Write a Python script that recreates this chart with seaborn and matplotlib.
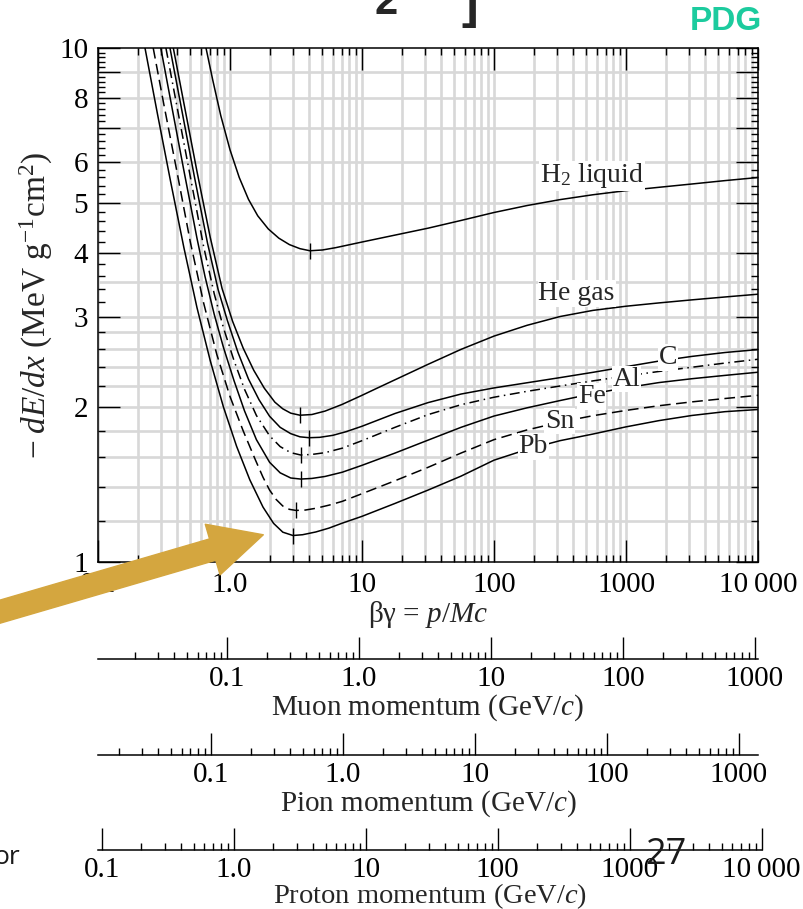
import numpy as np
import pandas as pd
import matplotlib
matplotlib.use("Agg")
import matplotlib.pyplot as plt
import seaborn as sns
from matplotlib.ticker import FixedLocator, FixedFormatter, LogLocator, NullFormatter
from matplotlib.patches import FancyArrowPatch

# ---------------- data ----------------
h2_bg  = [0.658, 0.741, 0.851, 1.0, 1.175, 1.380, 1.622, 1.950, 2.344, 2.818, 3.388, 4.036, 5.012, 6.310,
          7.943, 10, 17.78, 31.62, 56.23, 100, 177.8, 316.2, 562.3, 1000, 1778, 3162, 5623, 10000]
h2_val = [10.0, 8.650, 7.389, 6.339, 5.598, 5.077, 4.716, 4.446, 4.266, 4.145, 4.070, 4.032, 4.046, 4.088,
          4.140, 4.193, 4.325, 4.461, 4.618, 4.786, 4.937, 5.070, 5.182, 5.278, 5.358, 5.438, 5.521, 5.598]

he_bg  = [0.372, 0.447, 0.562, 0.708, 0.871, 1.047, 1.259, 1.514, 1.820, 2.188, 2.512, 2.884, 3.388, 4.169,
          5.248, 7.079, 10, 12.59, 17.78, 31.62, 56.23, 100, 177.8, 316.2, 562.3, 1000, 1778, 3162, 5623, 10000]
he_val = [10.0, 7.816, 5.754, 4.285, 3.404, 2.938, 2.606, 2.360, 2.178, 2.046, 1.986, 1.948, 1.930, 1.936,
          1.966, 2.026, 2.110, 2.170, 2.262, 2.424, 2.592, 2.751, 2.887, 3.003, 3.087, 3.145, 3.192, 3.236, 3.278, 3.319]

c_bg   = [0.351, 0.427, 0.537, 0.676, 0.813, 0.955, 1.148, 1.380, 1.660, 1.995, 2.399, 2.884, 3.388, 3.972,
          4.786, 6.026, 7.586, 10, 17.78, 31.62, 56.23, 100, 177.8, 316.2, 562.3, 1000, 1778, 3162, 5623, 10000]
c_val  = [10.0, 7.674, 5.623, 4.169, 3.388, 2.951, 2.559, 2.270, 2.068, 1.921, 1.828, 1.777, 1.752, 1.745,
          1.748, 1.764, 1.793, 1.837, 1.945, 2.042, 2.122, 2.181, 2.232, 2.284, 2.339, 2.399, 2.460, 2.512, 2.556, 2.590]

al_bg  = [0.327, 0.398, 0.501, 0.631, 0.759, 0.891, 1.072, 1.288, 1.585, 1.995, 2.399, 2.884, 3.428, 4.169,
          5.248, 7.079, 10, 17.78, 31.62, 56.23, 100, 177.8, 316.2, 562.3, 1000, 1778, 3162, 5623, 10000]
al_val = [10.0, 7.656, 5.610, 4.111, 3.327, 2.858, 2.466, 2.168, 1.928, 1.760, 1.677, 1.632, 1.615, 1.619,
          1.632, 1.665, 1.722, 1.828, 1.935, 2.023, 2.092, 2.148, 2.200, 2.251, 2.301, 2.348, 2.393, 2.438, 2.480]

fe_bg  = [0.299, 0.355, 0.447, 0.562, 0.646, 0.759, 0.891, 1.072, 1.288, 1.585, 1.995, 2.399, 2.884, 3.428,
          4.169, 5.248, 7.079, 10, 17.78, 31.62, 56.23, 100, 177.8, 316.2, 562.3, 1000, 1778, 3162, 5623, 10000]
fe_val = [10.0, 7.907, 5.781, 4.266, 3.597, 3.034, 2.618, 2.254, 1.968, 1.730, 1.563, 1.491, 1.457, 1.450,
          1.454, 1.467, 1.495, 1.542, 1.629, 1.726, 1.828, 1.923, 1.995, 2.061, 2.126, 2.183, 2.234, 2.273, 2.307, 2.340]

sn_bg  = [0.262, 0.316, 0.398, 0.501, 0.631, 0.794, 1.0, 1.259, 1.549, 1.778, 1.995, 2.239, 2.512, 2.818,
          3.162, 3.715, 4.467, 5.623, 7.079, 10, 17.78, 31.62, 56.23, 100, 177.8, 316.2, 562.3, 1000, 1778,
          3162, 5623, 10000]
sn_val = [10.0, 7.745, 5.715, 4.188, 3.192, 2.535, 2.099, 1.799, 1.585, 1.462, 1.380, 1.323, 1.285, 1.266,
          1.260, 1.262, 1.272, 1.290, 1.312, 1.358, 1.439, 1.528, 1.629, 1.730, 1.807, 1.871, 1.926, 1.972, 2.014,
          2.049, 2.080, 2.110]

pb_bg  = [0.227, 0.282, 0.355, 0.447, 0.562, 0.708, 0.891, 1.122, 1.413, 1.778, 2.138, 2.512, 3.0, 3.548,
          4.467, 5.623, 7.079, 10, 17.78, 31.62, 56.23, 100, 177.8, 316.2, 562.3, 1000, 1778, 3162, 5623, 10000]
pb_val = [10.0, 7.447, 5.495, 4.093, 3.126, 2.466, 2.004, 1.679, 1.445, 1.279, 1.189, 1.143, 1.126, 1.130,
          1.144, 1.164, 1.190, 1.227, 1.300, 1.380, 1.469, 1.578, 1.656, 1.722, 1.774, 1.832, 1.884, 1.928, 1.961, 1.980]

materials = ["H2", "He", "C", "Al", "Fe", "Sn", "Pb"]
min_bg  = [4.036, 3.388, 3.972, 3.428, 3.428, 3.162, 3.0]
min_val = [4.032, 1.930, 1.745, 1.615, 1.450, 1.260, 1.126]

label_text = [r"H$_2$ liquid", "He gas", "C", "Al", "Fe", "Sn", "Pb"]
label_bg   = [550, 423, 2090, 1012, 550, 316, 198]
label_val  = [5.64, 3.33, 2.50, 2.27, 2.10, 1.88, 1.68]

x_ticks  = [0.1, 1, 10, 100, 1000, 10000]
x_labels = ["0.1", "1.0", "10", "100", "1000", "10\u2009000"]
y_ticks  = [1, 2, 3, 4, 5, 6, 7, 8, 9, 10]
y_labels = ["1", "2", "3", "4", "5", "6", "", "8", "", "10"]
y_grid   = [1.2, 1.4, 1.6, 1.8, 2, 2.2, 2.4, 2.6, 2.8, 3, 3.5, 4, 5, 6, 7, 8, 9]

mom_ticks   = [0.1, 1, 10, 100, 1000]
mom_labels  = ["0.1", "1.0", "10", "100", "1000"]
prot_ticks  = [0.1, 1, 10, 100, 1000, 10000]
prot_labels = ["0.1", "1.0", "10", "100", "1000", "10\u2009000"]
muon_mass, pion_mass, proton_mass = 0.10566, 0.13957, 0.93827

# ---------------- style ----------------
sns.set_theme(style="white")
plt.rcParams["font.family"] = ["Liberation Serif", "DejaVu Serif"]
plt.rcParams["mathtext.fontset"] = "custom"
plt.rcParams["mathtext.rm"] = "Liberation Serif"
plt.rcParams["mathtext.it"] = "Liberation Serif:italic"
plt.rcParams["mathtext.bf"] = "Liberation Serif:bold"
plt.rcParams["axes.edgecolor"] = "black"
plt.rcParams["xtick.color"] = "black"
plt.rcParams["ytick.color"] = "black"

W, H = 804, 909
fig = plt.figure(figsize=(W / 100, H / 100), dpi=100)
fig.patch.set_facecolor("white")

def frac(x0, y0, w, h):
    return [x0 / W, 1 - (y0 + h) / H, w / W, h / H]

ax = fig.add_axes(frac(98, 48, 660, 514))
ax.set_xscale("log")
ax.set_yscale("log")
ax.set_xlim(0.1, 10000)
ax.set_ylim(1, 10)

GRID = "#d8d8d8"
ax.hlines(y_grid, 0.1, 10000, color=GRID, lw=1.9, zorder=0.5)
ax.grid(which="both", axis="x", color=GRID, lw=1.9, zorder=0.5)
ax.grid(False, axis="y", which="both")
ax.set_axisbelow(True)

curves = [
    (h2_bg, h2_val, "-"),
    (he_bg, he_val, "-"),
    (c_bg, c_val, "-"),
    (al_bg, al_val, (0, (6.5, 3, 1, 3))),
    (fe_bg, fe_val, "-"),
    (sn_bg, sn_val, (0, (7, 3.6))),
    (pb_bg, pb_val, "-"),
]
for name, (bg, val, ls) in zip(materials, curves):
    df = pd.DataFrame({"bg": bg, "val": val})
    sns.lineplot(data=df, x="bg", y="val", ax=ax, color="black", lw=1.1,
                 linestyle=ls, estimator=None, sort=True, zorder=2)

ax.plot(min_bg, min_val, ls="none", marker="|", ms=11, mew=1.0, color="black", zorder=2)

for txt, xb, yv in zip(label_text, label_bg, label_val):
    ax.text(xb, yv, txt, fontsize=20, ha="center", va="center", zorder=4,
            bbox=dict(facecolor="white", edgecolor="none", pad=0.6))

ax.xaxis.set_major_locator(FixedLocator(x_ticks))
ax.xaxis.set_major_formatter(FixedFormatter(x_labels))
ax.xaxis.set_minor_locator(LogLocator(base=10, subs=np.arange(2, 10)))
ax.xaxis.set_minor_formatter(NullFormatter())
ax.yaxis.set_major_locator(FixedLocator(y_ticks))
ax.yaxis.set_major_formatter(FixedFormatter(y_labels))
ax.yaxis.set_minor_locator(FixedLocator([v for v in np.arange(1.2, 10, 0.2) if abs(v - round(v)) > 0.05]))
ax.yaxis.set_minor_formatter(NullFormatter())
ax.tick_params(which="both", direction="in", top=True, right=True, bottom=True, left=True,
               width=1.0, color="black")
ax.tick_params(which="major", length=16, labelsize=21, pad=7)
ax.tick_params(which="minor", length=5)
for s in ax.spines.values():
    s.set_color("black")
    s.set_linewidth(1.1)

ax.set_xlabel(r"βγ = $p/Mc$", fontsize=21, labelpad=1)
ax.set_ylabel(r"$-\;dE/dx$ (MeV g$^{-1}$cm$^{2}$)", fontsize=24, labelpad=3)

# ---------------- momentum axes ----------------
def mom_axis(y_line, mass, ticks, labels, title, width=660, lpad=0, tsize=21):
    a = fig.add_axes([98 / W, 1 - y_line / H, width / W, 0.0005])
    a.set_xscale("log")
    a.set_xlim(0.1 * mass, 0.1 * mass * 10 ** (width / 132))
    a.set_yticks([])
    for s in ["left", "right", "top"]:
        a.spines[s].set_visible(False)
    a.spines["bottom"].set_color("black")
    a.spines["bottom"].set_linewidth(1.1)
    a.patch.set_alpha(0)
    a.xaxis.set_major_locator(FixedLocator(ticks))
    a.xaxis.set_major_formatter(FixedFormatter(labels))
    a.xaxis.set_minor_locator(LogLocator(base=10, subs=np.arange(2, 10)))
    a.xaxis.set_minor_formatter(NullFormatter())
    a.tick_params(which="both", direction="in", bottom=True, width=1.0, color="black")
    a.tick_params(which="major", length=16, labelsize=21, pad=5)
    a.tick_params(which="minor", length=5)
    a.set_xlabel(title, fontsize=tsize, labelpad=lpad)
    return a

mom_axis(659, muon_mass, mom_ticks, mom_labels, r"Muon momentum (GeV/$c$)")
mom_axis(755, pion_mass, mom_ticks, mom_labels, r"Pion momentum (GeV/$c$)")
mom_axis(850, proton_mass, prot_ticks, prot_labels, r"Proton momentum (GeV/$c$)", width=664,
         lpad=-1, tsize=20.5)

# ---------------- slide decorations ----------------
fig.text(726 / W, 1 - 22 / H, "PDG", color="#1CCB9E", fontsize=24, fontweight="bold",
         family=["Liberation Sans Narrow", "Liberation Sans", "DejaVu Sans"], ha="center", va="center")
fig.text(386 / W, 1 - 14 / H, "2", fontsize=30, fontweight="bold", ha="center", va="baseline",
         family=["Liberation Sans", "DejaVu Sans"])
fig.text(470 / W, 1 - 18 / H, "]", fontsize=36, fontweight="bold", ha="center", va="baseline",
         family=["Liberation Sans", "DejaVu Sans"])
fig.text(666 / W, 1 - 855 / H, "27", fontsize=26, ha="center", va="center",
         family=["Open Sans", "DejaVu Sans"], color="#1a1a1a")
fig.text(20 / W, 1 - 857 / H, "or", fontsize=19, ha="right", va="center",
         family=["Open Sans", "DejaVu Sans"], color="#1a1a1a")

arrow = FancyArrowPatch((-8 / W, 1 - 614 / H), (266 / W, 1 - 534 / H),
                        transform=fig.transFigure, arrowstyle="simple,head_length=1.9,head_width=1.9,tail_width=0.8",
                        mutation_scale=20, color="#D4A63F", zorder=10, clip_on=False)
fig.add_artist(arrow)

fig.savefig("out.png", dpi=100, facecolor="white")
